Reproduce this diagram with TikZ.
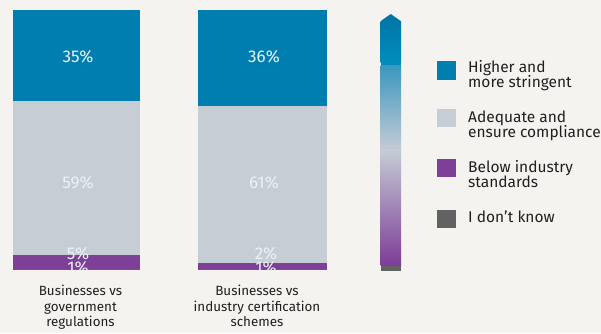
\documentclass[tikz,border=0pt]{standalone}
\usepackage{fontspec}
\setmainfont{Fira Sans}
\definecolor{bgc}{HTML}{F4F3EF}
\definecolor{cblue}{HTML}{007EB0}
\definecolor{cgray}{HTML}{C6CDD4}
\definecolor{cpurple}{HTML}{7E3F97}
\definecolor{cdark}{HTML}{626262}
\definecolor{ctext}{HTML}{231F20}
\definecolor{cpct}{HTML}{EAF2F6}
\definecolor{gblueA}{HTML}{0077A9}
\definecolor{gblueB}{HTML}{008DBD}
\definecolor{gblueC}{HTML}{3C97C0}
\definecolor{ggray}{HTML}{C5CCD4}
\definecolor{gpurple}{HTML}{7D3C98}
\begin{document}
\begin{tikzpicture}[x=1pt,y=1pt,
  pct/.style={text=cpct,font=\fontsize{17}{17}\selectfont,inner sep=0pt},
  legtext/.style={text=ctext,font=\fontsize{15.5}{15.5}\selectfont,align=left,anchor=base west,inner sep=0pt},
  cattext/.style={text=ctext,font=\fontsize{13.4}{15.5}\selectfont,align=center,anchor=base,inner sep=0pt},
  legbox/.style={minimum width=19pt,minimum height=18.5pt,inner sep=0pt,anchor=south west}]
\useasboundingbox (0,0) rectangle (601,333);
\fill[bgc] (0,0) rectangle (601,333);
% left bar
\fill[cblue] (13,232) rectangle (140,323);
\fill[cgray] (13,78) rectangle (140,232);
\fill[cpurple] (13,64.3) rectangle (140,78);
\fill[cdark] (13,62.7) rectangle (140,64.3);
\begin{scope}
\clip (13,62.7) rectangle (140,323);
\node[pct] (l35) at (78,276) {35\%};
\node[pct] (l59) at (78,150) {59\%};
\node[pct] (l5) at (78,79) {5\%};
\node[pct] (l1) at (78,65) {1\%};
\end{scope}
% right bar
\fill[cblue] (198,227) rectangle (327,323);
\fill[cgray] (198,70) rectangle (327,227);
\fill[cpurple] (198,64) rectangle (327,70);
\fill[cdark] (198,62.7) rectangle (327,64);
\begin{scope}
\clip (198,62.7) rectangle (327,323);
\node[pct] (r36) at (264,276) {36\%};
\node[pct] (r61) at (264,150) {61\%};
\node[pct] (r2) at (266,79) {2\%};
\node[pct] (r1) at (266,65) {1\%};
\end{scope}
% category labels (anchor = baseline of last line)
\node[cattext] (lcat) at (80.5,6.3) {Businesses vs\\government\\regulations};
\node[cattext] (rcat) at (257,6.3) {Businesses vs\\industry certification\\schemes};
% gradient arrow
\fill[gblueA] (380.5,311.8) -- (390.75,319) -- (401,311.8) -- cycle;
\shade[top color=gblueA,bottom color=gblueB] (380.5,271) rectangle (401,312);
\fill[gblueB] (380.5,267) rectangle (401,271.2);
\shade[top color=gblueC,bottom color=ggray] (380.5,183) rectangle (401,267.2);
\shade[top color=ggray,bottom color=gpurple] (380.5,67.5) rectangle (401,183.2);
\fill[cdark] (380.5,62.5) rectangle (401,67.5);
% legend
\node[legbox,fill=cblue] (k1) at (437,253) {};
\node[legbox,fill=cgray] (k2) at (437,205.5) {};
\node[legbox,fill=cpurple] (k3) at (437,155.5) {};
\node[legbox,fill=cdark] (k4) at (437,104.5) {};
\node[legtext] (t1) at (468,245.5) {Higher and\\more stringent};
\node[legtext] (t2) at (468,195.5) {Adequate and\\ensure compliance};
\node[legtext] (t3) at (468,145.3) {Below industry\\standards};
\node[legtext] (t4) at (468,110.3) {I don’t know};
\end{tikzpicture}
\end{document}
